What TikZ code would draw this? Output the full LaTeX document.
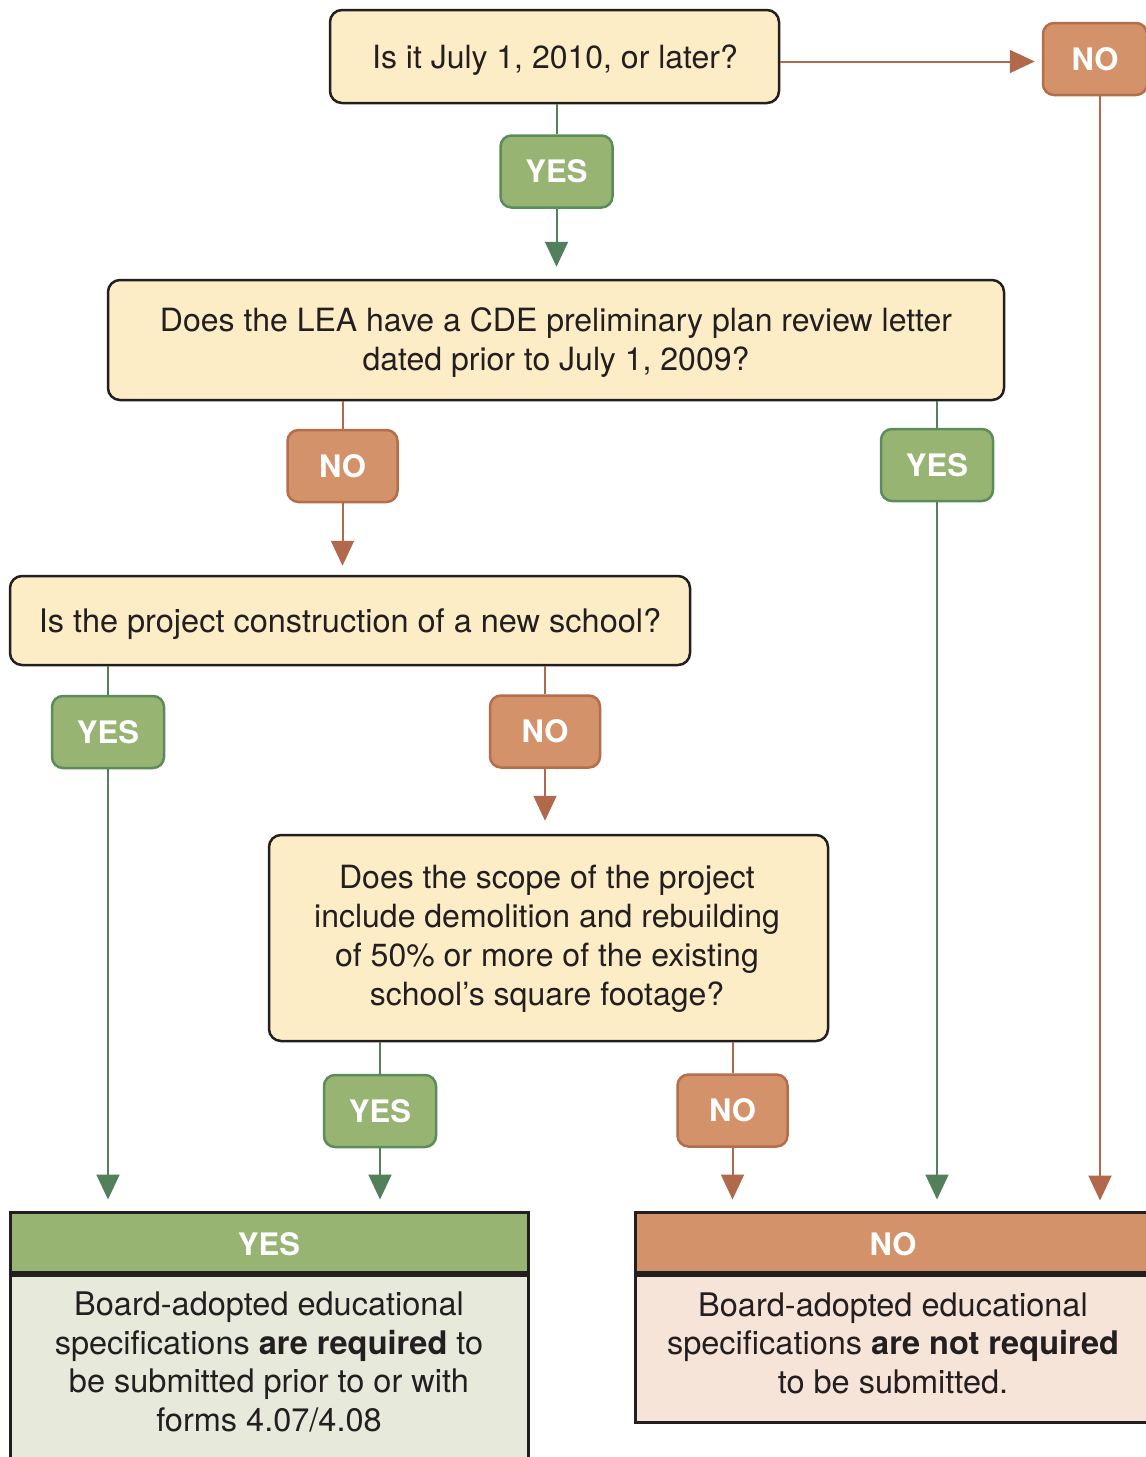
\documentclass[tikz,border=0pt]{standalone}
\usepackage{fontspec}
\setmainfont{TeX Gyre Heros}
\usetikzlibrary{arrows.meta}
\definecolor{cream}{HTML}{FDEDC6}
\definecolor{darkb}{HTML}{231F20}
\definecolor{gfill}{HTML}{98B473}
\definecolor{gbord}{HTML}{5B8C5A}
\definecolor{gline}{HTML}{52805A}
\definecolor{ofill}{HTML}{D4926A}
\definecolor{obord}{HTML}{B46E4B}
\definecolor{oline}{HTML}{B0694A}
\definecolor{gbody}{HTML}{E7EADB}
\definecolor{obody}{HTML}{F5E4D7}
\tikzset{
  qbox/.style={draw=darkb, line width=2.5pt, fill=cream, rounded corners=12pt, inner sep=0pt},
  qtext/.style={align=center, font=\fontsize{32}{39}\selectfont, inner sep=0pt, text=darkb},
  ylab/.style={draw=gbord, line width=2.5pt, fill=gfill, rounded corners=11pt, text=white,
    font=\fontsize{31}{37}\selectfont\bfseries, minimum width=112pt, minimum height=72pt, inner sep=0pt},
  nlab/.style={draw=obord, line width=2.5pt, fill=ofill, rounded corners=11pt, text=white,
    font=\fontsize{31}{37}\selectfont\bfseries, minimum width=110pt, minimum height=72pt, inner sep=0pt},
  gcon/.style={draw=gline, line width=2pt},
  ocon/.style={draw=oline, line width=2pt},
  garr/.style={gcon, -{Triangle[length=25pt,width=23pt]}},
  oarr/.style={ocon, -{Triangle[length=25pt,width=23pt]}},
  rhead/.style={draw=darkb, line width=3pt, minimum height=60pt, inner sep=0pt},
  htext/.style={font=\fontsize{31}{37}\selectfont\bfseries, text=white, inner sep=0pt},
  rbody/.style={draw=darkb, line width=3pt, inner sep=0pt},
  rtext/.style={align=center, font=\fontsize{32.5}{38.5}\selectfont, inner sep=0pt, text=darkb},
}
\begin{document}
\begin{tikzpicture}[x=1pt,y=1pt]
\clip (0,0) rectangle (1146,-1457);
\fill[white] (0,0) rectangle (1146,-1457);

% questions (boxes)
\node[qbox, minimum width=449pt, minimum height=93pt] (q1) at (554.5,-56.5) {};
\node[qbox, minimum width=896pt, minimum height=120pt] (q2) at (556,-340) {};
\node[qbox, minimum width=680pt, minimum height=89pt] (q3) at (350,-620.5) {};
\node[qbox, minimum width=559pt, minimum height=206pt] (q4) at (548.5,-938) {};
% questions (text)
\node[qtext] (q1t) at (555,-60.5) {Is it July 1, 2010, or later?};
\node[qtext] (q2t) at (556,-343) {Does the LEA have a CDE preliminary plan review letter\\dated prior to July 1, 2009?};
\node[qtext, font=\fontsize{32.5}{39}\selectfont] (q3t) at (350,-623.5) {Is the project construction of a new school?};
\node[qtext] (q4t) at (547,-939) {Does the scope of the project\\include demolition and rebuilding\\of 50\% or more of the existing\\school’s square footage?};

% labels
\node[nlab, minimum width=104pt] (n0) at (1095,-59) {NO};
\node[ylab] (y1) at (556.5,-171.5) {YES};
\node[nlab] (n2) at (342.5,-466) {NO};
\node[ylab] (y2) at (937,-465) {YES};
\node[ylab] (y3) at (108,-732) {YES};
\node[nlab] (n3) at (545,-731.5) {NO};
\node[ylab] (y4) at (380,-1111) {YES};
\node[nlab] (n4) at (732.5,-1110.5) {NO};

% result boxes
\node[rhead, fill=gfill, minimum width=518pt] (yh) at (269,-1242) {};
\node[rbody, fill=gbody, minimum width=518pt, minimum height=210pt, anchor=north] (yb) at (yh.south) {};
\node[htext] (yht) at (269,-1244) {YES};
\node[rtext] (yt) at (269,-1362) {Board-adopted educational\\specifications \textbf{are required} to\\be submitted prior to or with\\forms 4.07/4.08};

\node[rhead, fill=ofill, minimum width=530pt, anchor=west] (nh) at (634,-1242) {};
\node[rbody, fill=obody, minimum width=530pt, minimum height=147pt, anchor=north west] (nb) at (nh.south west) {};
\node[htext] (nht) at (893,-1244) {NO};
\node[rtext] (nt) at (893,-1343) {Board-adopted educational\\specifications \textbf{are not required}\\to be submitted.};

% connectors
\draw[oarr, shorten >=7pt] ([yshift=-5pt]q1.east) -- ([yshift=-5pt]q1.east -| n0.west);
\draw[oarr, shorten >=10pt] ([xshift=5pt]n0.south) -- ([xshift=5pt]n0.south |- nh.north);

\draw[gcon] (y1.north |- q1.south) -- (y1.north);
\draw[garr, shorten >=12pt] (y1.south) -- (y1.south |- q2.north);

\draw[ocon] (n2.north |- q2.south) -- (n2.north);
\draw[oarr, shorten >=9pt] (n2.south) -- (n2.south |- q3.north);

\draw[gcon] (y2.north |- q2.south) -- (y2.north);
\draw[garr, shorten >=11pt] (y2.south) -- (y2.south |- nh.north);

\draw[gcon] (y3.north |- q3.south) -- (y3.north);
\draw[garr, shorten >=11pt] (y3.south) -- (y3.south |- yh.north);

\draw[ocon] (n3.north |- q3.south) -- (n3.north);
\draw[oarr, shorten >=13pt] (n3.south) -- (n3.south |- q4.north);

\draw[gcon] (y4.north |- q4.south) -- (y4.north);
\draw[garr, shorten >=11pt] (y4.south) -- (y4.south |- yh.north);

\draw[ocon] (n4.north |- q4.south) -- (n4.north);
\draw[oarr, shorten >=11pt] (n4.south) -- (n4.south |- nh.north);
\end{tikzpicture}
\end{document}
